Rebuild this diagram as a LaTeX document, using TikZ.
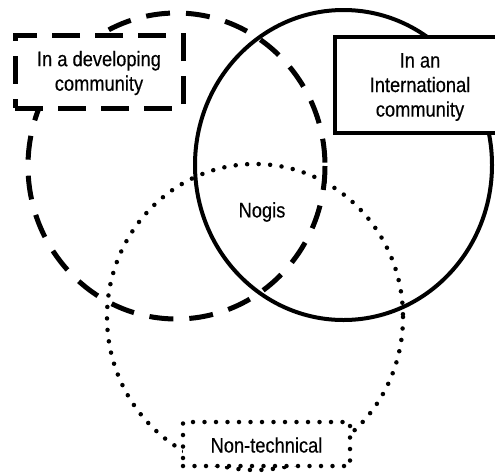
\documentclass[tikz,border=0pt]{standalone}
\usepackage{fontspec}
\setmainfont{Liberation Sans}[FakeStretch=0.87,FakeBold=0.4]
\begin{document}
\begin{tikzpicture}[x=1pt,y=-1pt,
  solidline/.style={line width=4pt},
  dashline/.style={line width=5pt, dash pattern=on 24pt off 16pt},
  boxdash/.style={line width=5pt, dash pattern=on 28pt off 15pt},
  dotline/.style={line width=4.5pt, line cap=round, dash pattern=on 0pt off 11.5pt},
  lbl/.style={font=\fontsize{21}{24.5}\selectfont, align=center, inner sep=0pt},
  boxnode/.style={fill=white, inner sep=0pt}]
\useasboundingbox (0,0) rectangle (495,475);
% circles
\draw[dashline] (176.5,166) ellipse [x radius=148.5, y radius=153];
\draw[solidline] (343.5,165) ellipse [x radius=148.5, y radius=155];
\draw[dotline] (255,317) ellipse [x radius=148, y radius=153];
% boxes
\node[boxnode, boxdash, draw, minimum width=168pt, minimum height=73pt] (dev) at (99,71.5) {};
\node[lbl] (devt) at (99,73) {In a developing\\community};
\node[boxnode, solidline, draw, minimum width=170pt, minimum height=96pt] (intl) at (420,85) {};
\node[lbl] (intlt) at (420,87) {In an\\International\\community};
\node[boxnode, dotline, draw, minimum width=167pt, minimum height=44pt] (nt) at (266.5,444) {};
\node[lbl] (ntt) at (266.5,445) {Non-technical};
\node[lbl] (nogis) at (262,212) {Nogis};
\end{tikzpicture}
\end{document}
